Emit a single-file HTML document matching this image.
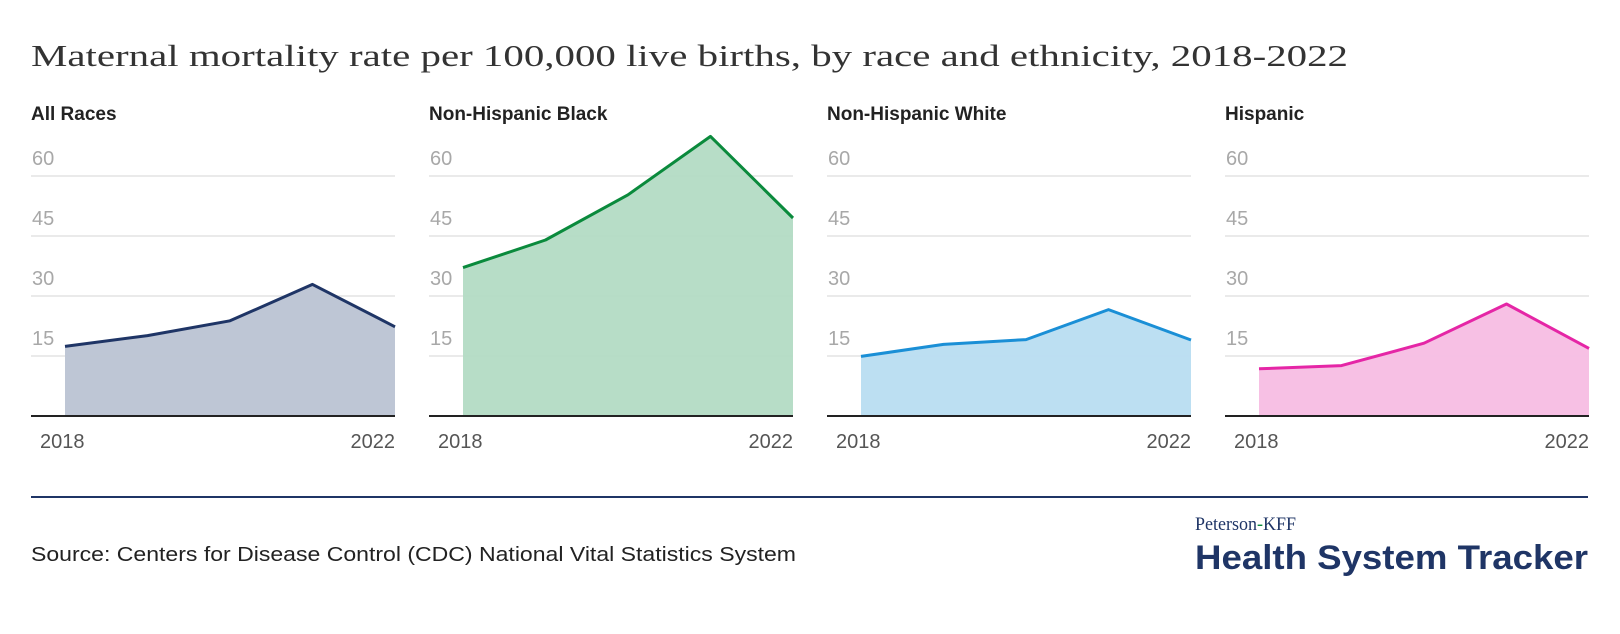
<!DOCTYPE html>
<html><head><meta charset="utf-8"><style>
body{margin:0;background:#fff;}
svg{display:block;}
</style></head><body>
<svg id="chart" width="1620" height="634" viewBox="0 0 1620 634" xmlns="http://www.w3.org/2000/svg">
<text x="31" y="66" font-family="Liberation Serif, serif" font-size="31" fill="#333" textLength="1317" lengthAdjust="spacingAndGlyphs">Maternal mortality rate per 100,000 live births, by race and ethnicity, 2018-2022</text>
<g id="panels"></g>
<line x1="31" y1="497" x2="1588" y2="497" stroke="#1f3566" stroke-width="2"/>
<text x="31" y="561" font-family="Liberation Sans, sans-serif" font-size="20" fill="#222" textLength="765" lengthAdjust="spacingAndGlyphs">Source: Centers for Disease Control (CDC) National Vital Statistics System</text>
<text x="1195" y="530" font-family="Liberation Serif, serif" font-size="19" fill="#1f3566" textLength="101" lengthAdjust="spacingAndGlyphs">Peterson<tspan fill="#0a8a3c">-</tspan>KFF</text>
<text x="1195" y="569" font-family="Liberation Sans, sans-serif" font-weight="bold" font-size="34" fill="#1f3566" textLength="393" lengthAdjust="spacingAndGlyphs">Health System Tracker</text>
</svg>
<script>
const years = [2018, 2019, 2020, 2021, 2022];
const groupNames = ["All Races", "Non-Hispanic Black", "Non-Hispanic White", "Hispanic"];
const allRaces = [17.4, 20.1, 23.8, 32.9, 22.3];
const nhBlack = [37.1, 44.0, 55.3, 69.9, 49.5];
const nhWhite = [14.9, 17.9, 19.1, 26.6, 19.0];
const hispanic = [11.8, 12.6, 18.2, 28.0, 16.9];
const yTicks = [15, 30, 45, 60];

const series = [allRaces, nhBlack, nhWhite, hispanic];
const lineColors = ["#1f3566", "#0a8a3c", "#1a8fd6", "#e526a6"];
const fillColors = ["#bac3d3", "#b3dbc4", "#b8ddf1", "#f7bde3"];
const NS = "http://www.w3.org/2000/svg";
const g = document.getElementById("panels");
const panelLeft = [31, 429, 827, 1225];
const panelW = 364, dataOff = 34, y0 = 416, pxPerUnit = 4;
function yScale(v){ return y0 - v * pxPerUnit; }
function mk(tag, attrs){ const e = document.createElementNS(NS, tag); for (const k in attrs) e.setAttribute(k, attrs[k]); return e; }

series.forEach((vals, i) => {
  const L = panelLeft[i], R = L + panelW, dL = L + dataOff;
  const xScale = yr => dL + (yr - years[0]) / (years[years.length-1] - years[0]) * (R - dL);
  const pg = mk("g", {});
  
  
  g.appendChild(pg);
  const t = mk("text", {x: L, y: 120, "font-family": "Liberation Sans, sans-serif", "font-weight": "bold", "font-size": "19", fill: "#222"});
  t.textContent = groupNames[i];
  
  
  pg.appendChild(t);
  yTicks.forEach(tv => {
    const gl = mk("line", {x1: L, x2: R, y1: yScale(tv), y2: yScale(tv), stroke: "#e3e3e3", "stroke-width": 1.5});
    
    
    pg.appendChild(gl);
    const tl = mk("text", {x: L + 1, y: yScale(tv) - 11, "font-family": "Liberation Sans, sans-serif", "font-size": "20", fill: "#a8a8a8"});
    tl.textContent = tv;
    
    
    pg.appendChild(tl);
  });
  let d = "M" + xScale(years[0]) + "," + y0;
  vals.forEach((v, j) => { d += " L" + xScale(years[j]) + "," + yScale(v); });
  d += " L" + xScale(years[years.length-1]) + "," + y0 + " Z";
  const area = mk("path", {d: d, fill: fillColors[i], opacity: 0.95});
  
  
  pg.appendChild(area);
  const pts = vals.map((v, j) => xScale(years[j]) + "," + yScale(v)).join(" ");
  const ln = mk("polyline", {points: pts, fill: "none", stroke: lineColors[i], "stroke-width": 3, "stroke-linejoin": "round"});
  
  
  pg.appendChild(ln);
  const ax = mk("line", {x1: L, x2: R, y1: y0, y2: y0, stroke: "#222", "stroke-width": 2});
  
  
  pg.appendChild(ax);
  const a = mk("text", {x: L + 9, y: 448, "font-family": "Liberation Sans, sans-serif", "font-size": "20", fill: "#555"});
  a.textContent = years[0];
  
  
  pg.appendChild(a);
  const b = mk("text", {x: R, y: 448, "text-anchor": "end", "font-family": "Liberation Sans, sans-serif", "font-size": "20", fill: "#555"});
  b.textContent = years[years.length-1];
  
  
  pg.appendChild(b);
});
</script>
</body></html>
